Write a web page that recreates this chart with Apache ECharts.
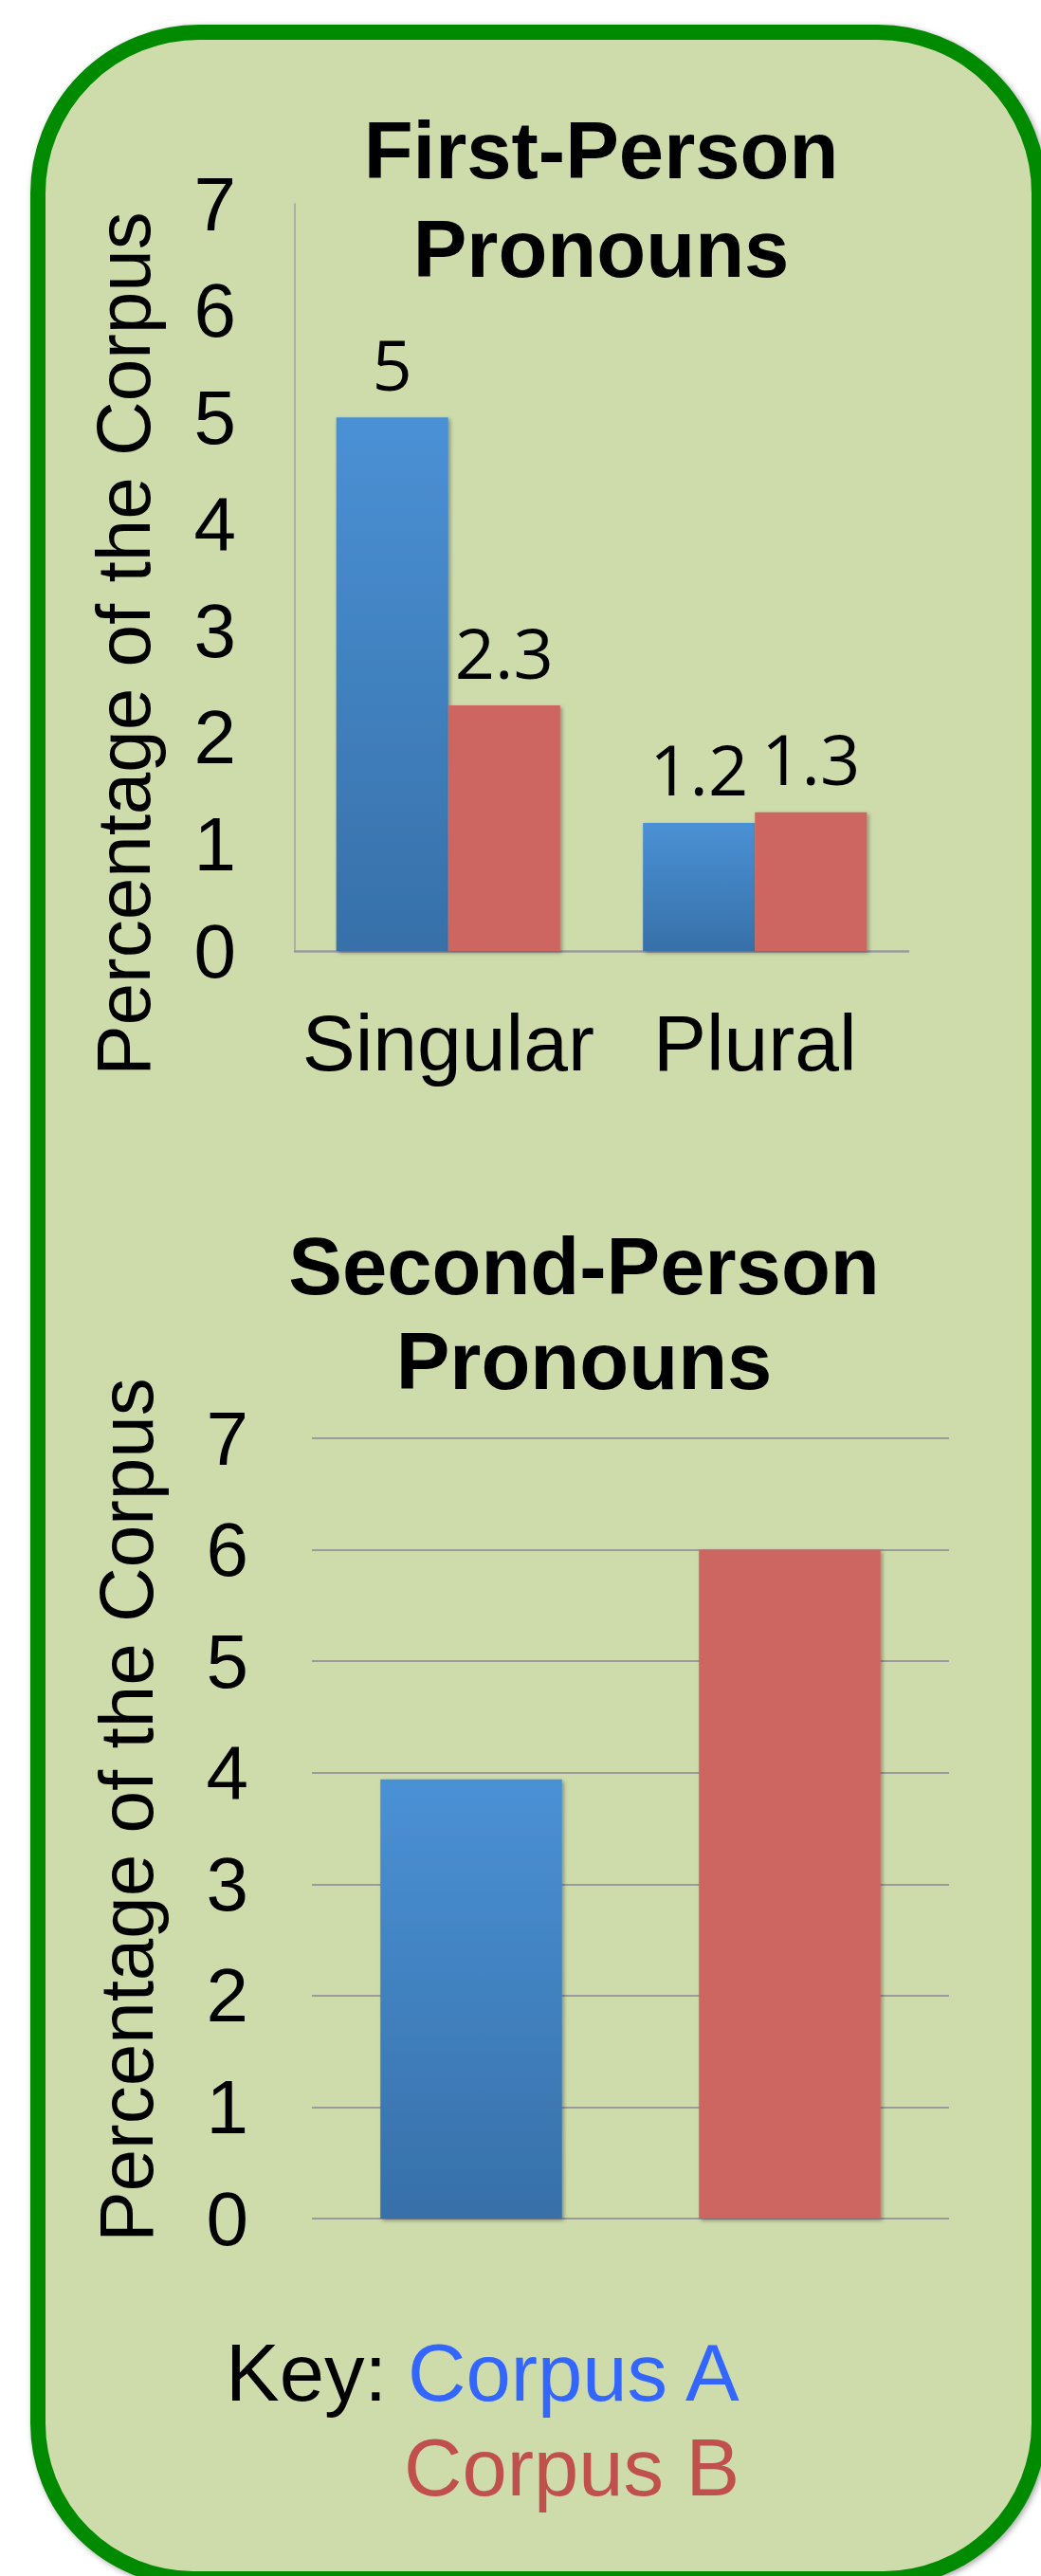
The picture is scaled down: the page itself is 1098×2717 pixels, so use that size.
<!DOCTYPE html>
<html>
<head>
<meta charset="utf-8">
<script src="https://cdn.jsdelivr.net/npm/echarts@6/dist/echarts.min.js"></script>
<style>
  html, body { margin: 0; padding: 0; background: #ffffff; overflow: hidden; }
  #box {
    position: absolute; left: 32px; top: 26px; width: 1072px; height: 2702px;
    box-sizing: border-box; border: 16px solid #008a00;
    border-radius: 178px 178px 172px 172px;
    background: #cedcac;
    box-shadow: 2px 2px 6px rgba(0,0,0,0.35);
  }
  #chart { position: absolute; left: 0; top: 0; width: 1098px; height: 2717px; }
</style>
</head>
<body>
<div id="box"></div>
<div id="chart"></div>
<script>
// ---- data ----
const firstCategories = ['Singular', 'Plural'];
const firstCorpusA = [5, 1.2];
const firstCorpusB = [2.3, 1.3];
const secondCategories = ['Corpus A', 'Corpus B'];
const secondValues = [3.94, 6];
const yMin = 0, yMax = 7, yInterval = 1;
const chartTitles = ['First-Person\nPronouns', 'Second-Person\nPronouns'];
const yAxisName = 'Percentage of the Corpus';
const keyLabels = ['Key:', 'Corpus A', 'Corpus B'];

// ---- styles ----
const FONT = 'Liberation Sans, Arial, Helvetica, sans-serif';
const LABEL_FONT = 'Open Sans, Noto Sans, sans-serif';
const blueGrad = new echarts.graphic.LinearGradient(0, 0, 0, 1, [
  { offset: 0, color: '#4a91d5' },
  { offset: 1, color: '#3770a9' }
]);
const red = '#cd6660';
const barShadow = { shadowColor: 'rgba(0,0,0,0.35)', shadowBlur: 4, shadowOffsetX: 2, shadowOffsetY: 2 };

const chart = echarts.init(document.getElementById('chart'), null, { renderer: 'svg' });

const yAxisCommon = {
  type: 'value', min: yMin, max: yMax, interval: yInterval,
  axisTick: { show: false },
  axisLabel: { color: '#000', fontFamily: FONT, fontSize: 80 }
};

const dataLabel = { show: true, position: 'top', distance: 20, color: '#000',
                    fontFamily: LABEL_FONT, fontSize: 74, lineHeight: 74 };

chart.setOption({
  backgroundColor: 'transparent',
  animation: false,
  title: [
    { text: chartTitles[0], left: 629, top: 101, textAlign: 'center',
      textStyle: { fontFamily: FONT, fontWeight: 'bold', fontSize: 85, lineHeight: 104, color: '#000' } },
    { text: chartTitles[1], left: 611, top: 1280, textAlign: 'center',
      textStyle: { fontFamily: FONT, fontWeight: 'bold', fontSize: 85, lineHeight: 100, color: '#000' } }
  ],
  grid: [
    { left: 311, top: 215, width: 647, height: 788, containLabel: false },
    { left: 329, top: 1517, width: 672, height: 823, containLabel: false }
  ],
  xAxis: [
    { type: 'category', gridIndex: 0, data: firstCategories,
      axisLine: { show: true, lineStyle: { color: '#9a9a9a', width: 2.5 } },
      axisTick: { show: false },
      axisLabel: { interval: 0, hideOverlap: false, color: '#000', fontFamily: FONT, fontSize: 84, margin: 55 } },
    { type: 'category', gridIndex: 1, data: secondCategories,
      axisLine: { show: false }, axisTick: { show: false }, axisLabel: { show: false } }
  ],
  yAxis: [
    Object.assign({}, yAxisCommon, { gridIndex: 0,
      axisLine: { show: true, lineStyle: { color: '#a0a0a0', width: 1.5 } },
      splitLine: { show: false },
      axisLabel: Object.assign({}, yAxisCommon.axisLabel, { margin: 62 }) }),
    Object.assign({}, yAxisCommon, { gridIndex: 1,
      axisLine: { show: false },
      splitLine: { show: true, lineStyle: { color: '#9b9b9b', width: 2 } },
      axisLabel: Object.assign({}, yAxisCommon.axisLabel, { margin: 67 }) })
  ],
  series: [
    { name: 'Corpus A', type: 'bar', xAxisIndex: 0, yAxisIndex: 0, data: firstCorpusA,
      barGap: '0%', barCategoryGap: '27%',
      itemStyle: Object.assign({ color: blueGrad }, barShadow), label: dataLabel },
    { name: 'Corpus B', type: 'bar', xAxisIndex: 0, yAxisIndex: 0, data: firstCorpusB,
      barGap: '0%', barCategoryGap: '27%',
      itemStyle: Object.assign({ color: red }, barShadow), label: dataLabel },
    { name: 'Corpus A', type: 'bar', xAxisIndex: 1, yAxisIndex: 1, stack: 'second',
      data: [secondValues[0], '-'], barCategoryGap: '43%',
      itemStyle: Object.assign({ color: blueGrad }, barShadow) },
    { name: 'Corpus B', type: 'bar', xAxisIndex: 1, yAxisIndex: 1, stack: 'second',
      data: ['-', secondValues[1]], barCategoryGap: '43%',
      itemStyle: Object.assign({ color: red }, barShadow) }
  ],
  graphic: [
    { type: 'text', x: 130, y: 679, rotation: Math.PI / 2,
      style: { text: yAxisName, fill: '#000', font: '80px ' + FONT,
               align: 'center', verticalAlign: 'middle' } },
    { type: 'text', x: 133, y: 1909, rotation: Math.PI / 2,
      style: { text: yAxisName, fill: '#000', font: '80px ' + FONT,
               align: 'center', verticalAlign: 'middle' } },
    { type: 'text', x: 238, y: 2502,
      style: { text: keyLabels[0], fill: '#000', font: '85px ' + FONT,
               align: 'left', verticalAlign: 'middle' } },
    { type: 'text', x: 430, y: 2502,
      style: { text: keyLabels[1], fill: '#3366ff', font: '85px ' + FONT,
               align: 'left', verticalAlign: 'middle' } },
    { type: 'text', x: 426, y: 2602,
      style: { text: keyLabels[2], fill: '#c0504d', font: '85px ' + FONT,
               align: 'left', verticalAlign: 'middle' } }
  ]
});
</script>
</body>
</html>
